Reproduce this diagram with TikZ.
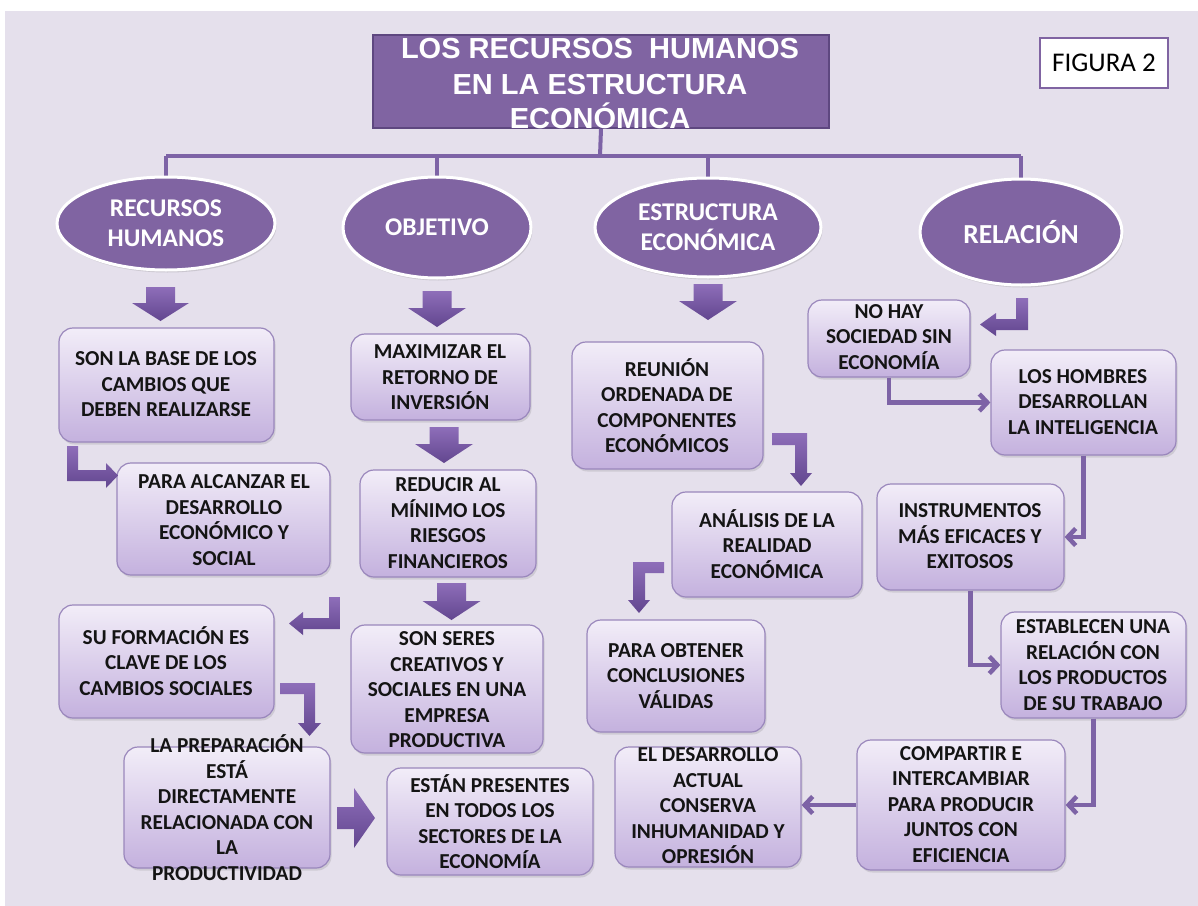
\documentclass[tikz,border=0pt]{standalone}
\usepackage{fontspec}
\setmainfont{Carlito}
\newfontfamily\titlefont{Liberation Sans}
\usetikzlibrary{arrows.meta,shadows,shapes.geometric,calc}
\definecolor{bgc}{HTML}{E5E0EC}
\definecolor{purp}{HTML}{8064A2}
\definecolor{purpdk}{HTML}{5E4780}
\definecolor{boxtop}{HTML}{F2EDF8}
\definecolor{boxbot}{HTML}{C4B1DE}
\definecolor{boxline}{HTML}{9A87BC}
\definecolor{linec}{HTML}{7D63A6}
\definecolor{arrtop}{HTML}{8E6EB9}
\definecolor{arrbot}{HTML}{62468F}
\definecolor{txt}{HTML}{141414}
\tikzset{
  rbox/.style={rectangle, rounded corners=14bp, draw=boxline, line width=1.2bp,
    top color=boxtop, bottom color=boxbot, inner sep=0pt,
    drop shadow={opacity=0.22, shadow xshift=1.5bp, shadow yshift=-2.5bp}},
  tl/.style={align=center, text=txt, inner sep=0pt,
    font=\bfseries\fontsize{21.3bp}{25.5bp}\selectfont},
  ell/.style={ellipse, fill=purp, draw=white, line width=3bp, inner sep=0pt,
    align=center, text=white, font=\bfseries\fontsize{25.5bp}{30bp}\selectfont,
    drop shadow={opacity=0.25, shadow xshift=1.5bp, shadow yshift=-2.5bp}},
  ttl/.style={text=white, inner sep=0pt, anchor=base,
    font=\titlefont\bfseries\fontsize{29bp}{34bp}\selectfont},
  tree/.style={draw=linec, line width=4bp},
  conn/.style={draw=linec, line width=4.5bp, -{Straight Barb[length=8bp,width=17bp]}},
  barrow/.style={top color=arrtop, bottom color=arrbot}
}
\begin{document}
\begin{tikzpicture}[x=1bp, y=-1bp]
\useasboundingbox (0,0) rectangle (1198,906);
\fill[white] (0,0) rectangle (1198,906);
\fill[bgc] (5,11) rectangle (1198,906);

% title
\node[rectangle, fill=purp, draw=purpdk, line width=1.5bp, minimum width=456bp, minimum height=93bp, inner sep=0pt] (title) at (601,81.5) {};
\node[ttl] (ta) at (600,58) {LOS RECURSOS\ \ HUMANOS};
\node[ttl] (tb) at (600,94) {EN LA ESTRUCTURA};
\node[ttl] (tc) at (600,128.5) {ECONÓMICA};

\node[draw=purp, line width=2.5bp, fill=white, minimum width=128bp, minimum height=50bp, inner sep=0pt, text=black,
  font=\fontsize{27bp}{32bp}\selectfont] (fig) at (1104,63) {FIGURA 2};

% tree
\coordinate (bus) at (600,156);
\draw[tree] (title.south) -- (bus);
\draw[tree] (166,156) -- (1021,156);
\draw[tree] (166,156) -- (166,185);
\draw[tree] (437,156) -- (437,185);
\draw[tree] (708,156) -- (708,185);
\draw[tree] (1021,156) -- (1021,185);

% ellipses
\node[ell, minimum width=218bp, minimum height=93bp] (e1) at (166,223.5) {RECURSOS\\HUMANOS};
\node[ell, minimum width=188bp, minimum height=101bp] (e2) at (437,227.5) {OBJETIVO};
\node[ell, minimum width=226bp, minimum height=99bp] (e3) at (708,227.5) {ESTRUCTURA\\ECONÓMICA};
\node[ell, minimum width=202bp, minimum height=106bp, font=\bfseries\fontsize{27.5bp}{32bp}\selectfont] (e4) at (1021,232) {RELACIÓN};

% boxes
\node[rbox, minimum width=215bp, minimum height=114bp] (b1) at (166.5,385) {};
\node[rbox, minimum width=213bp, minimum height=112bp] (b2) at (223.5,519) {};
\node[rbox, minimum width=179bp, minimum height=86bp] (b3) at (440.5,377) {};
\node[rbox, minimum width=176bp, minimum height=107bp] (b4) at (448,523.5) {};
\node[rbox, minimum width=192bp, minimum height=128bp] (b5) at (447,689) {};
\node[rbox, minimum width=215bp, minimum height=113bp] (b6) at (166.5,661.5) {};
\node[rbox, minimum width=206bp, minimum height=121bp] (b7) at (227,807.5) {};
\node[rbox, minimum width=206bp, minimum height=107bp] (b8) at (490,821.5) {};
\node[rbox, minimum width=191bp, minimum height=127bp] (b9) at (667.5,405.5) {};
\node[rbox, minimum width=190bp, minimum height=105bp] (b10) at (767,544.5) {};
\node[rbox, minimum width=178bp, minimum height=112bp] (b11) at (676,676) {};
\node[rbox, minimum width=162bp, minimum height=77bp] (b12) at (889,338.5) {};
\node[rbox, minimum width=185bp, minimum height=105bp] (b13) at (1083.5,402.5) {};
\node[rbox, minimum width=187bp, minimum height=106bp] (b14) at (970.5,537) {};
\node[rbox, minimum width=185bp, minimum height=106bp] (b15) at (1093.5,665) {};
\node[rbox, minimum width=208bp, minimum height=130bp] (b16) at (961,805) {};
\node[rbox, minimum width=186bp, minimum height=120bp] (b17) at (708,807) {};

% texts
\node[tl] (t1) at (166,384.5) {SON LA BASE DE LOS\\CAMBIOS QUE\\DEBEN REALIZARSE};
\node[tl] (t2) at (224,520) {PARA ALCANZAR EL\\DESARROLLO\\ECONÓMICO Y\\SOCIAL};
\node[tl] (t3) at (440,377.5) {MAXIMIZAR EL\\RETORNO DE\\INVERSIÓN};
\node[tl] (t4) at (448,523) {REDUCIR AL\\MÍNIMO LOS\\RIESGOS\\FINANCIEROS};
\node[tl] (t5) at (447,690) {SON SERES\\CREATIVOS Y\\SOCIALES EN UNA\\EMPRESA\\PRODUCTIVA};
\node[tl] (t6) at (166,661) {SU FORMACIÓN ES\\CLAVE DE LOS\\CAMBIOS SOCIALES};
\node[tl] (t7) at (227,807.5) {LA PREPARACIÓN\\ESTÁ\\DIRECTAMENTE\\RELACIONADA CON\\LA\\PRODUCTIVIDAD};
\node[tl] (t8) at (490,821.5) {ESTÁN PRESENTES\\EN TODOS LOS\\SECTORES DE LA\\ECONOMÍA};
\node[tl] (t9) at (667,405.5) {REUNIÓN\\ORDENADA DE\\COMPONENTES\\ECONÓMICOS};
\node[tl] (t10) at (767,544) {ANÁLISIS DE LA\\REALIDAD\\ECONÓMICA};
\node[tl] (t11) at (676,676) {PARA OBTENER\\CONCLUSIONES\\VÁLIDAS};
\node[tl] (t12) at (889,337) {NO HAY\\SOCIEDAD SIN\\ECONOMÍA};
\node[tl] (t13) at (1083,402) {LOS HOMBRES\\DESARROLLAN\\LA INTELIGENCIA};
\node[tl] (t14) at (970,536.5) {INSTRUMENTOS\\MÁS EFICACES Y\\EXITOSOS};
\node[tl] (t15) at (1093,665) {ESTABLECEN UNA\\RELACIÓN CON\\LOS PRODUCTOS\\DE SU TRABAJO};
\node[tl] (t16) at (961,804.5) {COMPARTIR E\\INTERCAMBIAR\\PARA PRODUCIR\\JUNTOS CON\\EFICIENCIA};
\node[tl] (t17) at (708,806) {EL DESARROLLO\\ACTUAL\\CONSERVA\\INHUMANIDAD Y\\OPRESIÓN};

% straight block arrows (down)
\shade[barrow] (146,287) -- (175,287) -- (175,303) -- (189,303) -- (160.5,321) -- (132,303) -- (146,303) -- cycle;
\shade[barrow] (422.5,291) -- (451.5,291) -- (451.5,308) -- (466,308) -- (437,327) -- (408,308) -- (422.5,308) -- cycle;
\shade[barrow] (693.5,284) -- (722.5,284) -- (722.5,301) -- (737,301) -- (708,320) -- (679,301) -- (693.5,301) -- cycle;
\shade[barrow] (429.5,427) -- (458.5,427) -- (458.5,444) -- (473,444) -- (444,463) -- (415,444) -- (429.5,444) -- cycle;
\shade[barrow] (437,583) -- (466,583) -- (466,601) -- (480.5,601) -- (451.5,620) -- (422.5,601) -- (437,601) -- cycle;
% right block arrow
\shade[barrow] (337,807) -- (354,807) -- (354,788) -- (375,818) -- (354,848) -- (354,829) -- (337,829) -- cycle;
% bent block arrows
\shade[barrow] (67,446) -- (78,446) -- (78,470) -- (106,470) -- (106,463) -- (118,475.5) -- (106,488) -- (106,481) -- (67,481) -- cycle;
\shade[barrow] (329,597) -- (340,597) -- (340,629) -- (303,629) -- (303,635) -- (289,623.5) -- (303,612) -- (303,618) -- (329,618) -- cycle;
\shade[barrow] (280,683) -- (315,683) -- (315,723) -- (321,723) -- (309.5,736) -- (298,723) -- (304,723) -- (304,694) -- (280,694) -- cycle;
\shade[barrow] (1016,298) -- (1028,298) -- (1028,330) -- (996,330) -- (996,336) -- (980,324.5) -- (996,313) -- (996,319) -- (1016,319) -- cycle;
\shade[barrow] (772,433) -- (807,433) -- (807,473) -- (812,473) -- (801,486) -- (790,473) -- (795,473) -- (795,445) -- (772,445) -- cycle;
\shade[barrow] (664,562) -- (633,562) -- (633,600) -- (628,600) -- (639,613) -- (650,600) -- (645,600) -- (645,573) -- (664,573) -- cycle;

% thin connectors
\draw[conn] (b12.south) |- (b13.west);
\draw[conn] (b13.south) |- (b14.east);
\draw[conn] (b14.south) |- (b15.west);
\draw[conn] (b15.south) |- (b16.east);
\draw[conn] (b16.west) -- (b16.west -| b17.east);
\end{tikzpicture}
\end{document}
